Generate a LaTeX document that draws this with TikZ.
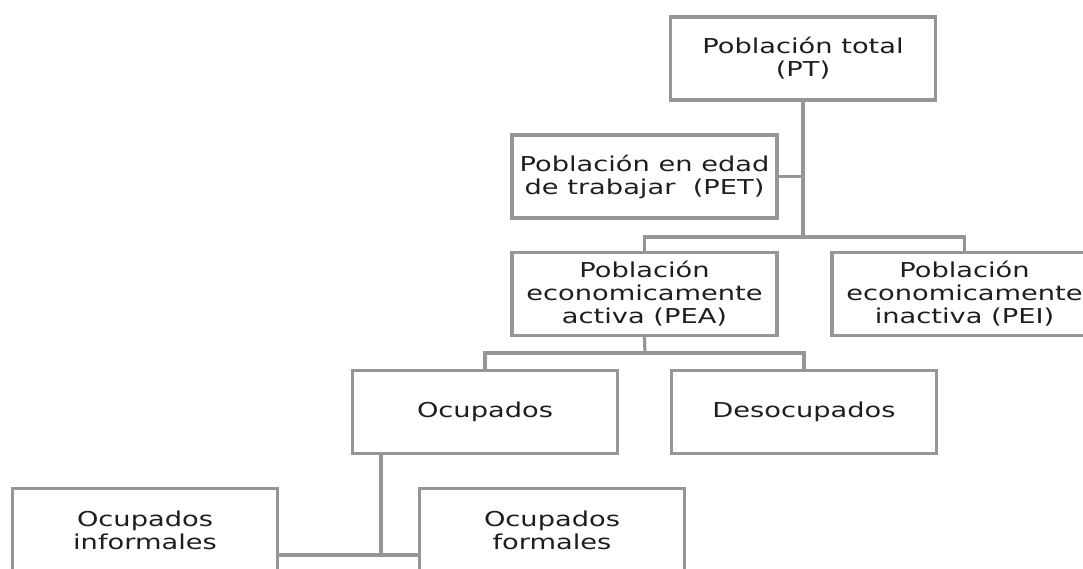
\documentclass[tikz,border=0pt]{standalone}
\usepackage{fontspec}
\setmainfont{DejaVu Sans}[FakeStretch=1.33]
\definecolor{linegray}{RGB}{150,150,150}
\definecolor{txt}{RGB}{30,30,30}
\tikzset{
  box/.style={draw=linegray, line width=3.2pt, fill=white, minimum width=265pt, minimum height=83pt,
    inner sep=0pt, align=center, text=txt, font=\fontsize{20.5}{23}\selectfont},
  conn/.style={draw=linegray, line width=3.2pt}
}
\begin{document}
\begin{tikzpicture}[x=1pt,y=-1pt]
\useasboundingbox (0,0) rectangle (1083,568);
\coordinate (j1) at (803,237);
\coordinate (j2) at (645,353);
\coordinate (j3t) at (381,453);
\coordinate (j3) at (381,555);
\node[box] (PT) at (803,58.5) {Población total\\(PT)};
\node[box] (PET) at (644.5,176.5) {Población en edad\\de trabajar~~(PET)};
\node[box] (PEA) at (644.5,294) {Población\\economicamente\\activa (PEA)};
\node[box] (PEI) at (964.5,294) {Población\\economicamente\\inactiva (PEI)};
\node[box] (OC) at (485,412) {Ocupados};
\node[box] (DE) at (804,412) {Desocupados};
\node[box] (OI) at (145,530) {Ocupados\\informales};
\node[box] (OF) at (552,530) {Ocupados\\formales};
\draw[conn] (PT.south) -- (j1);
\draw[conn] (PET.east) -- (PET.east -| j1);
\draw[conn] (PEA.north) |- (j1) -| (PEI.north);
\draw[conn] (PEA.south) -- (j2);
\draw[conn] (OC.north) |- (j2) -| (DE.north);
\draw[conn] (j3t) -- (j3);
\draw[conn] (OI.east |- j3) -- (OF.west |- j3);
\end{tikzpicture}
\end{document}
